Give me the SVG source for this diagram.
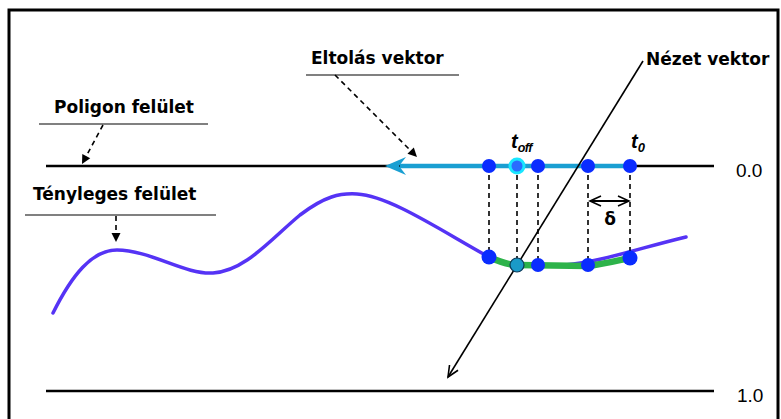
<svg xmlns="http://www.w3.org/2000/svg" width="781" height="419" viewBox="0 0 781 419">
<style>
.lbl{font-family:"DejaVu Sans",Verdana,sans-serif;font-weight:bold;font-size:17px;fill:#000}
.num{font-family:"Liberation Sans",Arial,sans-serif;font-size:19px;fill:#000}
.it{font-family:"Liberation Sans",Arial,sans-serif;font-style:italic;font-weight:bold;fill:#000}
.ul{stroke:#808080;stroke-width:2;fill:none}
.base{stroke:#000;stroke-width:2.5;fill:none}
.dash{stroke:#000;stroke-width:1.6;stroke-dasharray:5,4;fill:none}
.dot{fill:#0a2cff}
</style>
<defs>
<marker id="fa" markerUnits="userSpaceOnUse" markerWidth="12" markerHeight="12" viewBox="-10 -6 12 12" refX="0" refY="0" orient="auto">
<path d="M-9,-4.5 L0,0 L-9,4.5 Z" fill="#000"/>
</marker>
<marker id="oa" markerUnits="userSpaceOnUse" markerWidth="16" markerHeight="16" viewBox="-14 -8 16 16" refX="0" refY="0" orient="auto-start-reverse">
<path d="M-11,-5 L0,0 L-11,5" fill="none" stroke="#000" stroke-width="1.6"/>
</marker>
</defs>
<rect x="9" y="10" width="769" height="425" fill="#fff" stroke="#000" stroke-width="3"/>

<g id="surface-lines">
<line class="base" x1="46" y1="166" x2="714" y2="166"/>
<line class="base" x1="46" y1="391" x2="714" y2="391"/>
</g>

<g id="label-poligon">
<text class="lbl" x="54" y="113">Poligon felület</text>
<line class="ul" x1="39" y1="124" x2="208" y2="124"/>
</g>
<g id="label-tenyleges">
<text class="lbl" x="33" y="200" font-size="17.5">Tényleges felület</text>
<line class="ul" x1="25" y1="215" x2="216" y2="215"/>
</g>
<g id="label-eltolas">
<text class="lbl" x="311" y="64">Eltolás vektor</text>
<line class="ul" x1="306" y1="75" x2="459" y2="75"/>
</g>
<g id="label-nezet">
<text class="lbl" x="646" y="65" font-size="17.6">Nézet vektor</text>
</g>
<g id="label-00"><text class="num" x="736" y="177">0.0</text></g>
<g id="label-10"><text class="num" x="737" y="402">1.0</text></g>

<g id="actual-surface">
<path d="M53,313 C72,275 92,250 117,250 C150,250 185,275 213,273 C245,271 270,240 300,215 C325,196 340,193 357,194 C390,196 440,230 489,257 C505,266 540,266 565,265 C600,262 640,248 686,237" fill="none" stroke="#5533f5" stroke-width="3.5" stroke-linecap="round"/>
<path d="M489,257 C500,262 510,265 517,265 L588,266 C605,264 620,260 630,258" fill="none" stroke="#2db34a" stroke-width="6.5" stroke-linecap="round"/>
</g>

<g id="offset-vector">
<line x1="400" y1="166" x2="630" y2="166" stroke="#1a9fd2" stroke-width="4.5"/>
<path d="M385,166 L406,157 L399,166 L406,175 Z" fill="#1a9fd2"/>
</g>

<g id="connectors">
<line class="dash" x1="489" y1="166" x2="489" y2="257"/>
<line class="dash" x1="517" y1="166" x2="517" y2="265"/>
<line class="dash" x1="538" y1="166" x2="538" y2="265"/>
<line class="dash" x1="588" y1="166" x2="588" y2="265"/>
<line class="dash" x1="630" y1="166" x2="630" y2="258"/>
<line class="dash" x1="103" y1="125" x2="82" y2="164" marker-end="url(#fa)"/>
<line class="dash" x1="116" y1="216" x2="116" y2="242" marker-end="url(#fa)"/>
<line class="dash" x1="335" y1="75" x2="417" y2="157" marker-end="url(#fa)"/>
<line x1="590" y1="201" x2="629" y2="201" stroke="#000" stroke-width="1.8" marker-start="url(#oa)" marker-end="url(#oa)"/>
<line id="view-vector" x1="643" y1="61" x2="448" y2="377" stroke="#000" stroke-width="1.6" marker-end="url(#oa)"/>
</g>

<g id="top-points">
<circle class="dot" cx="489" cy="166" r="7"/>
<circle cx="517" cy="166" r="7" fill="#2a6cff" stroke="#19e6ff" stroke-width="3"/>
<circle class="dot" cx="538" cy="166" r="7"/>
<circle class="dot" cx="588" cy="166" r="7"/>
<circle class="dot" cx="630" cy="166" r="7"/>
</g>
<g id="bottom-points">
<circle class="dot" cx="489" cy="257" r="7.5"/>
<circle cx="517" cy="265" r="7" fill="#1a9ac8" stroke="#0b3a5a" stroke-width="1.2"/>
<circle class="dot" cx="538" cy="265" r="7"/>
<circle class="dot" cx="588" cy="265" r="7"/>
<circle class="dot" cx="630" cy="258" r="7.5"/>
</g>

<g id="label-toff"><text class="it" x="511" y="148" font-size="20">t<tspan font-size="12.5" dy="4" letter-spacing="-0.5">off</tspan></text></g>
<g id="label-t0"><text class="it" x="631" y="148" font-size="20">t<tspan font-size="13" dy="4">0</tspan></text></g>
<g id="label-delta"><text class="lbl" x="610" y="225" text-anchor="middle">δ</text></g>
</svg>
